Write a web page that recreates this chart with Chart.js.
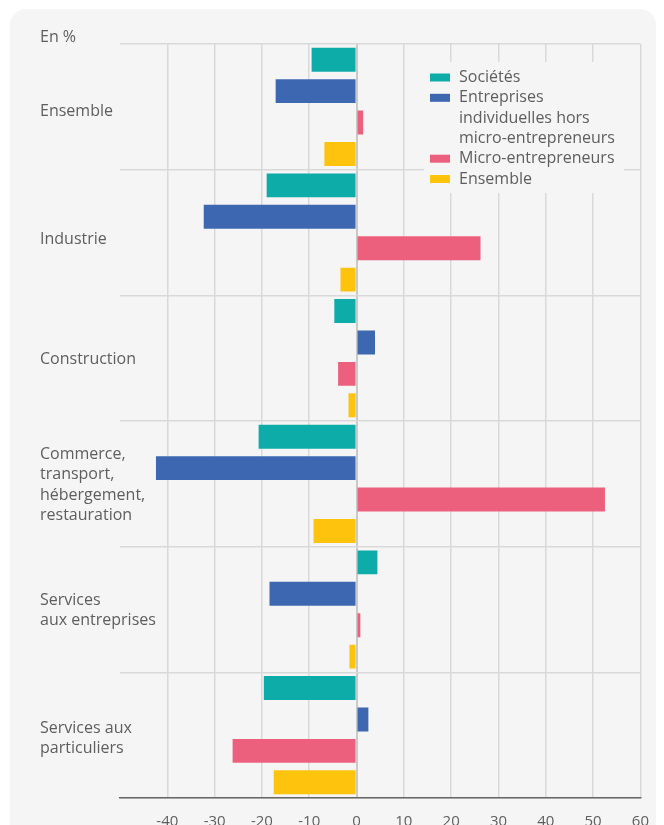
<!DOCTYPE html>
<html>
<head>
<meta charset="utf-8">
<script src="https://cdn.jsdelivr.net/npm/chart.js@4/dist/chart.umd.min.js"></script>
<style>
  html, body { margin: 0; padding: 0; background: #ffffff; }
  body { width: 664px; height: 825px; position: relative; overflow: hidden; }
  .card {
    position: absolute; left: 10px; top: 9px; width: 646px; height: 840px;
    background: #f5f5f5; border-radius: 16px;
  }
  #chart { position: absolute; left: 0; top: 0; }
</style>
</head>
<body>
<div class="card"></div>
<canvas id="chart" width="664" height="825"></canvas>
<script>
// Catégories (axe vertical)
const categories = [
  'Ensemble',
  'Industrie',
  'Construction',
  ['Commerce,', 'transport,', 'hébergement,', 'restauration'],
  ['Services', 'aux entreprises'],
  ['Services aux', 'particuliers']
];

// Séries (en %)
const societes     = [-9.5, -19.0, -4.7, -20.7,  4.4, -19.6];
const entIndiv     = [-17.1, -32.3, 3.9, -42.4, -18.4,  2.5];
const microEntr    = [ 1.4,  26.2, -3.9,  52.5,  0.8, -26.2];
const ensemble     = [-6.8,  -3.4, -1.7,  -9.1, -1.5, -17.5];

const seriesNames = ['Sociétés', 'Entreprises\nindividuelles hors\nmicro-entrepreneurs', 'Micro-entrepreneurs', 'Ensemble'];
const seriesColors = ['#0eaca9', '#3d67b0', '#ec607d', '#fec30d'];

// Axe horizontal
const xMin = -50;
const xMax = 60;
const xStep = 10;

const textColor = '#5e5e5e';
const fontFamily = '"Open Sans", "Noto Sans", sans-serif';
const lineH = 20.3;

const values = [societes, entIndiv, microEntr, ensemble];

// category labels, left-aligned, may run over the plot edge
const labelShift = [5, 7, 1, 1, 1, 3];
const catLabels = {
    id: 'catLabels',
    afterDraw(chart) {
        const ctx = chart.ctx;
        const yScale = chart.scales.y;
        ctx.save();
        ctx.font = '16px ' + fontFamily;
        ctx.fillStyle = textColor;
        ctx.textBaseline = 'middle';
        ctx.textAlign = 'left';
        chart.data.labels.forEach((lab, i) => {
            const lines = Array.isArray(lab) ? lab : [lab];
            const cy = yScale.getPixelForTick(i) + labelShift[i];
            let y = cy - (lines.length - 1) * lineH / 2;
            lines.forEach(line => {
                ctx.fillText(line, 40, y);
                y += lineH;
            });
        });
        ctx.fillText('En %', 40, 37);
        ctx.restore();
    }
};

// Legend drawn in a box over the grid
const boxLegend = {
    id: 'boxLegend',
    afterDraw(chart) {
        const ctx = chart.ctx;
        ctx.save();
        ctx.fillStyle = '#f5f5f5';
        ctx.fillRect(424, 62, 200, 131);
        ctx.font = '16px ' + fontFamily;
        ctx.textBaseline = 'middle';
        ctx.textAlign = 'left';
        let y = 77.5;
        chart.data.datasets.forEach(ds => {
            ctx.fillStyle = ds.backgroundColor;
            ctx.fillRect(430, y - 4, 20, 8);
            ctx.fillStyle = textColor;
            ds.label.split('\n').forEach(line => {
                ctx.fillText(line, 459, y);
                y += lineH;
            });
        });
        ctx.restore();
    }
};

new Chart(document.getElementById('chart'), {
    type: 'bar',
    data: {
        labels: categories,
        datasets: values.map((v, i) => ({
            label: seriesNames[i],
            data: v,
            backgroundColor: seriesColors[i],
            borderWidth: 0,
            categoryPercentage: 1,
            barPercentage: 0.76
        }))
    },
    options: {
        indexAxis: 'y',
        responsive: false,
        animation: false,
        layout: { padding: { left: 40, top: 44, right: 22, bottom: 0 } },
        plugins: {
            legend: { display: false },
            tooltip: { enabled: false }
        },
        scales: {
            x: {
                min: xMin,
                max: xMax,
                ticks: {
                    stepSize: xStep,
                    padding: 15,
                    color: textColor,
                    font: { family: fontFamily, size: 15 },
                    callback: v => (v === xMin ? '' : v)
                },
                grid: {
                    drawTicks: false,
                    color: c => (c.tick && c.tick.value === xMin ? 'rgba(0,0,0,0)' : (c.tick && c.tick.value === 0 ? '#c9c9c9' : '#d9d9d9')),
                    lineWidth: c => (c.tick && c.tick.value === 0 ? 2 : 1.5)
                },
                border: { display: true, color: '#666666', width: 1.5 },
                afterFit: s => { s.height = 27; }
            },
            y: {
                ticks: { display: false },
                grid: {
                    drawTicks: false,
                    color: '#d9d9d9',
                    lineWidth: 1.5
                },
                border: { display: false },
                afterFit: s => { s.width = 80; }
            }
        }
    },
    plugins: [boxLegend, catLabels]
});
</script>
</body>
</html>
